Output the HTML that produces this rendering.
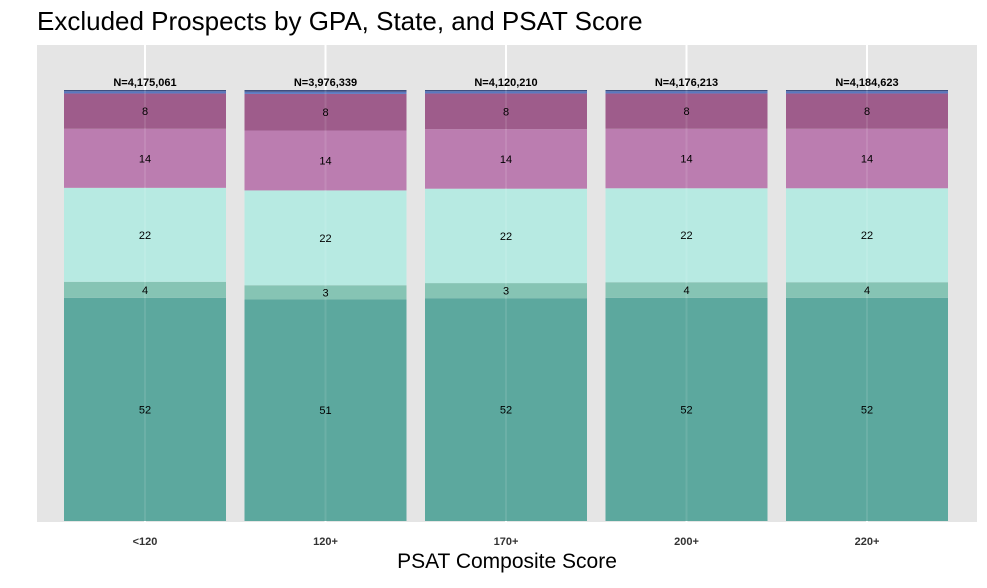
<!DOCTYPE html>
<html><head><meta charset="utf-8"><style>
body{margin:0;background:#fff;font-family:"Liberation Sans",Arial,sans-serif}
svg text{font-family:"Liberation Sans",Arial,sans-serif}
</style></head><body>
<svg width="987" height="583">
<text x="37" y="30" font-size="26" fill="#000">Excluded Prospects by GPA, State, and PSAT Score</text>
<rect x="37" y="45" width="940" height="477" fill="#e5e5e5"/>
<g id="grid"></g><g id="bars"></g><g id="grid2"></g><g id="labels"></g>
<text x="507" y="568" font-size="21" text-anchor="middle" fill="#000">PSAT Composite Score</text>
</svg>
<script>
const categories=["<120","120+","170+","200+","220+"];
const totals=["N=4,175,061","N=3,976,339","N=4,120,210","N=4,176,213","N=4,184,623"];
const seg1=[51.8,51.4,51.7,51.8,51.8];
const seg2=[3.7,3.3,3.5,3.6,3.6];
const seg3=[21.8,22.0,21.9,21.8,21.8];
const seg4=[13.7,13.9,13.8,13.8,13.8];
const seg5=[8.2,8.5,8.3,8.2,8.2];
const seg6=[0.5,0.5,0.5,0.5,0.5];
const seg7=[0.3,0.4,0.3,0.3,0.3];
const segLabels=[["52","4","22","14","8"],["51","3","22","14","8"],["52","3","22","14","8"],["52","4","22","14","8"],["52","4","22","14","8"]];
const series=[seg1,seg2,seg3,seg4,seg5,seg6,seg7];
const colors=["#5ca89e","#86c4b4","#b7eae2","#bb7db0","#9e5c8b","#5a78c0","#3d4e80"];
const NS="http://www.w3.org/2000/svg";
const x0=145,step=180.5,bw=162,yBase=521,yTop=90;
const xc=i=>x0+i*step;
const y=v=>yBase-(yBase-yTop)*v/100;
const grid=document.getElementById('grid'),grid2=document.getElementById('grid2'),bars=document.getElementById('bars'),labs=document.getElementById('labels');
function mk(tag,attrs,parent){const e=document.createElementNS(NS,tag);for(const k in attrs)e.setAttribute(k,attrs[k]);parent.appendChild(e);return e;}
categories.forEach((c,i)=>{
  const g=mk('line',{x1:xc(i),x2:xc(i),y1:45,y2:522,stroke:'#fff','stroke-width':2},grid);
  
  
  let cum=0;
  series.forEach((s,k)=>{
    const v=s[i];
    const r=mk('rect',{x:xc(i)-bw/2,y:y(cum+v),width:bw,height:y(cum)-y(cum+v),fill:colors[k]},bars);
    
    
    if(k<5){
      const t=mk('text',{x:xc(i),y:(y(cum)+y(cum+v))/2+4,'font-size':11,'text-anchor':'middle',fill:'#000'},labs);
      t.textContent=segLabels[i][k];
      
      
    }
    cum+=v;
  });
  const g2=mk('line',{x1:xc(i),x2:xc(i),y1:y(cum),y2:yBase,stroke:'#fff','stroke-width':2,'stroke-opacity':0.1},grid2);
  
  
  const n=mk('text',{x:xc(i),y:y(cum)-4,'font-size':11,'font-weight':'bold','text-anchor':'middle',fill:'#000'},labs);
  n.textContent=totals[i];
  
  
  const xl=mk('text',{x:xc(i),y:545,'font-size':11,'font-weight':'bold','text-anchor':'middle',fill:'#333'},labs);
  xl.textContent=c;
  
  
});
</script>
</body></html>
